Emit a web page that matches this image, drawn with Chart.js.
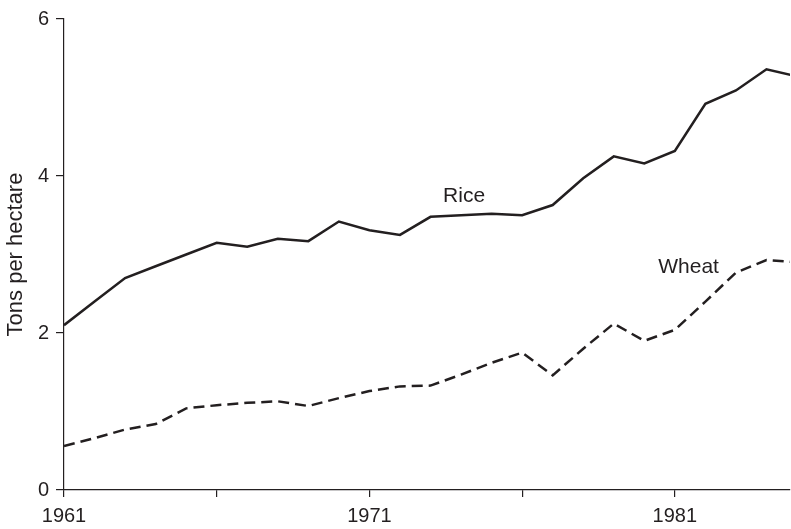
<!DOCTYPE html>
<html lang="en">
<head>
    <meta charset="UTF-8">
    <title>Rice and wheat yields</title>
    <style>
        /* Plain white page, chart fills the whole window */
        body {
            margin: 0;
            background: #FFFFFF;
        }
        #chart-container {
            width: 791px;
            height: 529px;
        }
    </style>
    <script src="https://cdn.jsdelivr.net/npm/chart.js"></script>
</head>
<body>

    <div id="chart-container">
        <canvas id="yieldChart"></canvas>
    </div>

    <script>
        // Years on the x axis (one point per year)
        const years = [1961, 1962, 1963, 1964, 1965, 1966, 1967, 1968, 1969, 1970,
                       1971, 1972, 1973, 1974, 1975, 1976, 1977, 1978, 1979, 1980,
                       1981, 1982, 1983, 1984, 1985];

        // Tons per hectare
        const riceYield = [2.10, 2.40, 2.70, 2.85, 3.00, 3.15, 3.10, 3.20, 3.17, 3.42,
                           3.31, 3.25, 3.48, 3.50, 3.52, 3.50, 3.63, 3.97, 4.25, 4.16,
                           4.32, 4.92, 5.09, 5.36, 5.27];
        const wheatYield = [0.56, 0.66, 0.77, 0.84, 1.04, 1.08, 1.11, 1.13, 1.07, 1.17,
                            1.26, 1.32, 1.33, 1.47, 1.62, 1.75, 1.46, 1.80, 2.12, 1.90,
                            2.04, 2.40, 2.77, 2.93, 2.90];

        // Series names (also drawn as labels next to the lines)
        const seriesNames = ["Rice", "Wheat"];

        // Tick marks on the x axis, and which of them get a label
        const xTickValues = [1961, 1966, 1971, 1976, 1981];
        const xTickLabels = ["1961", "", "1971", "", "1981"];
        const yTickValues = [0, 2, 4, 6];

        const ink = "#231f20";
        const fontFamily = '"Liberation Sans", Arial, Helvetica, sans-serif';

        // Draws the "Rice" / "Wheat" text beside the lines, placed in data units
        const lineLabels = {
            id: "lineLabels",
            afterDatasetsDraw(chart, args, opts) {
                const ctx = chart.ctx;
                const xs = chart.scales.x;
                const ys = chart.scales.y;
                ctx.save();
                ctx.fillStyle = ink;
                ctx.font = "21px " + fontFamily;
                ctx.textAlign = "center";
                ctx.textBaseline = "middle";
                opts.spots.forEach((spot, i) => {
                    ctx.fillText(seriesNames[i], xs.getPixelForValue(spot[0]), ys.getPixelForValue(spot[1]));
                });
                ctx.restore();
            }
        };

        function toPoints(values) {
            return years.map((yr, i) => ({ x: yr, y: values[i] }));
        }

        const ctx = document.getElementById("yieldChart").getContext("2d");

        new Chart(ctx, {
            type: "line",
            data: {
                datasets: [
                    {
                        label: seriesNames[0],
                        data: toPoints(riceYield),
                        borderColor: ink,
                        borderWidth: 2.5,
                        pointRadius: 0,
                        tension: 0,
                        fill: false
                    },
                    {
                        label: seriesNames[1],
                        data: toPoints(wheatYield),
                        borderColor: ink,
                        borderWidth: 2.5,
                        borderDash: [11, 6],
                        pointRadius: 0,
                        tension: 0,
                        fill: false
                    }
                ]
            },
            options: {
                responsive: true,
                maintainAspectRatio: false,
                animation: false,
                layout: {
                    padding: { top: 17, right: 1, left: 0, bottom: 0 }
                },
                scales: {
                    x: {
                        type: "linear",
                        min: 1961,
                        max: 1984.77, // picture is cut off just before 1985
                        afterBuildTicks: scale => {
                            scale.ticks = xTickValues.map(v => ({ value: v }));
                        },
                        afterFit: scale => { scale.height = 39; },
                        ticks: {
                            color: ink,
                            font: { family: fontFamily, size: 20 },
                            padding: 7,
                            maxRotation: 0,
                            autoSkip: false,
                            callback: value => xTickLabels[xTickValues.indexOf(value)]
                        },
                        grid: {
                            drawOnChartArea: false,
                            drawTicks: true,
                            tickLength: 7,
                            color: ink,
                            lineWidth: 1.2
                        },
                        border: { color: ink, width: 1.2 }
                    },
                    y: {
                        min: 0,
                        max: 6,
                        afterBuildTicks: scale => {
                            scale.ticks = yTickValues.map(v => ({ value: v }));
                        },
                        afterFit: scale => { scale.width = 64; },
                        title: {
                            display: true,
                            text: "Tons per hectare",
                            color: ink,
                            font: { family: fontFamily, size: 22 },
                            padding: { top: 3, bottom: 3 }
                        },
                        ticks: {
                            color: ink,
                            font: { family: fontFamily, size: 20 },
                            padding: 7
                        },
                        grid: {
                            drawOnChartArea: false,
                            drawTicks: true,
                            tickLength: 8,
                            color: ink,
                            lineWidth: 1.2
                        },
                        border: { color: ink, width: 1.2 }
                    }
                },
                plugins: {
                    legend: { display: false },
                    tooltip: { enabled: false },
                    lineLabels: {
                        spots: [[1974.1, 3.74], [1981.45, 2.84]]
                    }
                }
            },
            plugins: [lineLabels]
        });
    </script>

</body>
</html>
